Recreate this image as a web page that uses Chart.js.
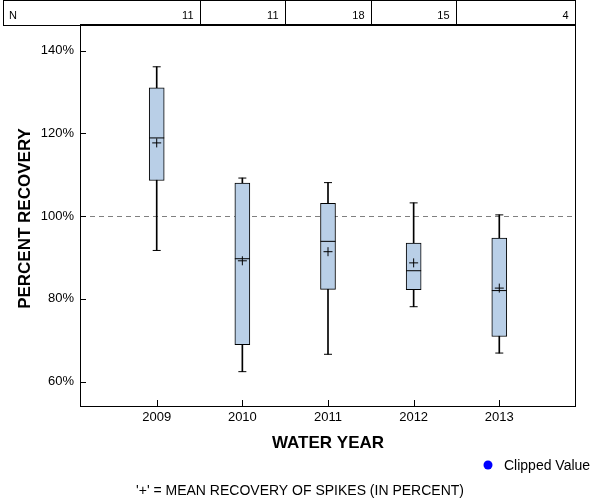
<!DOCTYPE html>
<html>
<head>
<meta charset="utf-8">
<script src="https://cdn.jsdelivr.net/npm/chart.js@4.4.1/dist/chart.umd.min.js"></script>
<style>
  html, body { margin: 0; padding: 0; background: #fff; }
  #wrap { width: 600px; height: 500px; }
</style>
</head>
<body>
<div id="wrap"><canvas id="chart" width="600" height="500"></canvas></div>
<script>
// water years and sample counts
const years = [2009, 2010, 2011, 2012, 2013];
const counts = [11, 11, 18, 15, 4];

// box statistics, percent recovery
const whiskerLow = [91.7, 62.4, 66.6, 78.1, 66.9];
const q1 = [108.6, 68.9, 82.3, 82.2, 70.9];
const median = [118.9, 89.7, 93.9, 86.8, 82.0];
const q3 = [131.0, 108.0, 103.1, 93.5, 94.7];
const whiskerHigh = [136.1, 109.2, 108.1, 103.2, 100.3];
const mean = [117.7, 89.2, 91.4, 88.7, 82.6];

const yTicks = [60, 80, 100, 120, 140];
const refLevel = 100;

const FONT = '"Liberation Sans", Arial, sans-serif';

const pts = (vals) => years.map((yr, i) => ({ x: yr, y: vals[i] }));

// frame, inward ticks, reference line, N table and extra text
const decorations = {
    id: 'decorations',
    beforeDatasetsDraw(chart) {
        const { ctx, chartArea: a, scales: { y } } = chart;
        const yy = Math.round(y.getPixelForValue(refLevel)) + 0.5;
        ctx.save();
        ctx.strokeStyle = '#808080';
        ctx.lineWidth = 1;
        ctx.setLineDash([5, 4]);
        ctx.beginPath();
        ctx.moveTo(a.left, yy);
        ctx.lineTo(a.right, yy);
        ctx.stroke();
        ctx.restore();
    },
    afterDraw(chart) {
        const { ctx, chartArea: a, scales: { x, y } } = chart;
        ctx.save();
        ctx.strokeStyle = '#000';
        ctx.lineWidth = 1;

        // plot frame
        ctx.strokeRect(a.left - 0.5, a.top - 0.5, a.right - a.left + 1, a.bottom - a.top + 1);

        // inward ticks
        ctx.beginPath();
        yTicks.forEach(v => {
            const py = Math.round(y.getPixelForValue(v)) + 0.5;
            ctx.moveTo(a.left, py);
            ctx.lineTo(a.left + 5, py);
        });
        years.forEach(v => {
            const px = Math.round(x.getPixelForValue(v)) + 0.5;
            ctx.moveTo(px, a.bottom);
            ctx.lineTo(px, a.bottom - 6);
        });
        ctx.stroke();

        // N table
        const tTop = 0.5, tBot = 25.5, tLeft = 3.5, tRight = a.right + 0.5;
        ctx.strokeRect(tLeft, tTop, tRight - tLeft, tBot - tTop);
        const edges = [];
        for (let i = 0; i < years.length - 1; i++) {
            edges.push(Math.round(x.getPixelForValue((years[i] + years[i + 1]) / 2)) + 0.5);
        }
        edges.push(tRight);
        ctx.beginPath();
        edges.slice(0, -1).forEach(ex => {
            ctx.moveTo(ex, tTop);
            ctx.lineTo(ex, tBot);
        });
        ctx.stroke();

        ctx.fillStyle = '#000';
        ctx.font = '11px ' + FONT;
        ctx.textBaseline = 'middle';
        ctx.textAlign = 'left';
        ctx.fillText('N', 9, 16);
        ctx.textAlign = 'right';
        counts.forEach((n, i) => ctx.fillText(String(n), edges[i] - 7, 16));

        // axis titles
        ctx.font = 'bold 17px ' + FONT;
        ctx.textAlign = 'center';
        ctx.fillText('WATER YEAR', (a.left + a.right) / 2, 443);
        ctx.save();
        ctx.translate(25, (a.top + a.bottom) / 2 + 3);
        ctx.rotate(-Math.PI / 2);
        ctx.fillText('PERCENT RECOVERY', 0, 0);
        ctx.restore();

        // legend
        ctx.fillStyle = '#0000ff';
        ctx.beginPath();
        ctx.arc(488, 465, 4.5, 0, Math.PI * 2);
        ctx.fill();
        ctx.fillStyle = '#000';
        ctx.font = '14px ' + FONT;
        ctx.textAlign = 'left';
        ctx.fillText('Clipped Value', 504, 466);

        // footnote
        ctx.textAlign = 'center';
        ctx.fillText("'+' = MEAN RECOVERY OF SPIKES (IN PERCENT)", 300, 491);
        ctx.restore();
    }
};

new Chart(document.getElementById('chart'), {
    type: 'bar',
    data: {
        datasets: [
            {
                label: 'whiskers',
                data: years.map((yr, i) => ({ x: yr, y: [whiskerLow[i], whiskerHigh[i]] })),
                backgroundColor: '#000',
                borderWidth: 0,
                barThickness: 1,
                grouped: false,
                order: 4
            },
            {
                label: 'box',
                data: years.map((yr, i) => ({ x: yr, y: [q1[i], q3[i]] })),
                backgroundColor: '#b9cfe7',
                borderColor: '#000',
                borderWidth: 1,
                borderSkipped: false,
                barThickness: 15,
                grouped: false,
                order: 3
            },
            {
                type: 'scatter',
                label: 'caps',
                data: pts(whiskerLow).concat(pts(whiskerHigh)),
                pointStyle: 'line',
                radius: 4,
                borderColor: '#000',
                borderWidth: 1,
                order: 2
            },
            {
                type: 'scatter',
                label: 'median',
                data: pts(median),
                pointStyle: 'line',
                radius: 7.5,
                borderColor: '#000',
                borderWidth: 1,
                order: 1
            },
            {
                type: 'scatter',
                label: 'mean',
                data: pts(mean),
                pointStyle: 'cross',
                radius: 4.5,
                borderColor: '#000',
                borderWidth: 1,
                order: 0
            }
        ]
    },
    options: {
        responsive: false,
        animation: false,
        events: [],
        layout: { padding: { top: 25, right: 25, left: 0, bottom: 0 } },
        plugins: {
            legend: { display: false },
            tooltip: { enabled: false }
        },
        scales: {
            x: {
                type: 'linear',
                offset: false,
                min: 2008.116,
                max: 2013.884,
                grid: { display: false, drawTicks: false },
                border: { display: false },
                afterBuildTicks: s => { s.ticks = years.map(v => ({ value: v })); },
                afterFit: s => { s.height = 94; },
                ticks: {
                    color: '#000',
                    font: { family: FONT, size: 13 },
                    padding: 4,
                    maxRotation: 0,
                    autoSkip: false,
                    callback: v => String(v)
                }
            },
            y: {
                min: 54.1,
                max: 146.2,
                grid: { display: false, drawTicks: false },
                border: { display: false },
                afterBuildTicks: s => { s.ticks = yTicks.map(v => ({ value: v })); },
                afterFit: s => { s.width = 81; },
                ticks: {
                    color: '#000',
                    font: { family: FONT, size: 13 },
                    padding: 7,
                    callback: v => v + '%'
                }
            }
        }
    },
    plugins: [decorations]
});
</script>
</body>
</html>
